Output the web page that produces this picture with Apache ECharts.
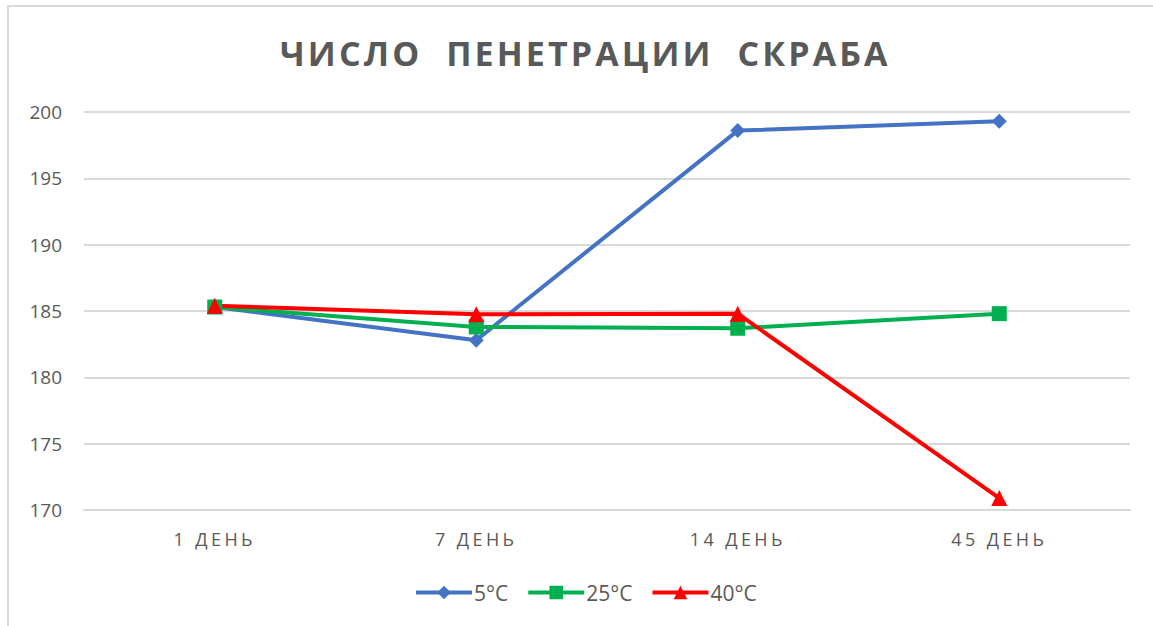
<!DOCTYPE html>
<html>
<head>
<meta charset="utf-8">
<script src="https://cdn.jsdelivr.net/npm/echarts@6/dist/echarts.min.js"></script>
<style>
  html, body { margin: 0; padding: 0; background: #ffffff; }
  #wrap { position: relative; width: 1153px; height: 626px; overflow: hidden; background: #fff; }
  #frame { position: absolute; left: 7px; top: 5px; width: 1200px; height: 700px; border: 2px solid #d9d9d9; box-sizing: border-box; }
  #chart { position: absolute; left: 0; top: 0; width: 1153px; height: 626px; }
  #chart text[style*="34px"] { letter-spacing: 3.1px; }
  #chart text[style*="18px"] { letter-spacing: 3.4px; }
</style>
</head>
<body>
<div id="wrap">
  <div id="frame"></div>
  <div id="chart"></div>
</div>
<script>
const titleText = 'ЧИСЛО  ПЕНЕТРАЦИИ  СКРАБА';
const categories = ['1 ДЕНЬ', '7 ДЕНЬ', '14 ДЕНЬ', '45 ДЕНЬ'];
const seriesNames = ['5°C', '25°C', '40°C'];
const values5 = [185.3, 182.8, 198.6, 199.3];
const values25 = [185.3, 183.8, 183.7, 184.8];
const values40 = [185.4, 184.75, 184.8, 170.9];
const yMin = 170, yMax = 200, yStep = 5;

const chart = echarts.init(document.getElementById('chart'), null, { renderer: 'svg' });
const grey = '#595959';
const font = '"Open Sans", sans-serif';

function mkSeries(name, data, color, symbol, size) {
  return {
    name: name, type: 'line', data: data,
    symbol: symbol, symbolSize: size,
    lineStyle: { color: color, width: 4 },
    itemStyle: { color: color },
    emphasis: { disabled: true },
    animation: false
  };
}

chart.setOption({
  animation: false,
  backgroundColor: 'transparent',
  title: {
    text: titleText,
    left: 275, top: 31,
    textStyle: { fontFamily: font, fontSize: 34, fontWeight: 'bold', color: grey }
  },
  legend: {
    data: seriesNames,
    bottom: 18, left: 409,
    itemWidth: 56, itemHeight: 17, itemGap: 18,
    lineStyle: { width: 4 },
    textStyle: { fontFamily: font, fontSize: 21, color: grey, padding: [0, 0, 0, -3] }
  },
  grid: { left: 84, right: 23, top: 112, bottom: 116 },
  xAxis: {
    type: 'category', data: categories, boundaryGap: true,
    axisLine: { show: true, lineStyle: { color: '#d9d9d9', width: 2 } },
    axisTick: { show: false },
    axisLabel: { fontFamily: font, fontSize: 18, color: grey, margin: 20 }
  },
  yAxis: {
    type: 'value', min: yMin, max: yMax, interval: yStep,
    axisLine: { show: false }, axisTick: { show: false },
    splitLine: { lineStyle: { color: '#d9d9d9', width: 2 } },
    axisLabel: { fontFamily: font, fontSize: 19, color: grey, margin: 22 }
  },
  series: [
    mkSeries(seriesNames[0], values5, '#4472C4', 'diamond', 15),
    mkSeries(seriesNames[1], values25, '#00B050', 'rect', 15),
    mkSeries(seriesNames[2], values40, '#FF0000', 'triangle', 16)
  ]
});
</script>
</body>
</html>
